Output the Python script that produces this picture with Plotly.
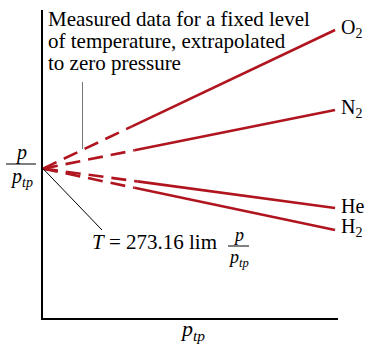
import plotly.graph_objects as go

# ---- data ----
gases = ["O<sub>2</sub>", "N<sub>2</sub>", "He", "H<sub>2</sub>"]
p_ratio_at_zero = 0.485          # common intercept (extrapolated)
p_ratio_end = [0.935, 0.675, 0.357, 0.286]
measured_start = [0.30, 0.31, 0.32, 0.31]   # x where measured (solid) data begins
x_end = 0.99

RED = "#B0151F"
FONT = "Liberation Serif, Times New Roman, serif"

W, H = 368, 345
ML, MR, MT, MB = 43, 30, 10, 27
PW, PH = W - ML - MR, H - MT - MB

def px2x(px):
    return (px - ML) / PW

def py2y(py):
    return (H - MB - py) / PH

fig = go.Figure()
for name, yend, xs in zip(gases, p_ratio_end, measured_start):
    slope = (yend - p_ratio_at_zero) / x_end
    ys = p_ratio_at_zero + slope * xs
    fig.add_trace(go.Scatter(x=[0, xs], y=[p_ratio_at_zero, ys], mode="lines",
                             line=dict(color=RED, width=2.6, dash="15px,8px"),
                             hoverinfo="skip", showlegend=False))
    fig.add_trace(go.Scatter(x=[xs, x_end], y=[ys, yend], mode="lines",
                             line=dict(color=RED, width=2.6),
                             hoverinfo="skip", showlegend=False))

def txt(px, py, text, size, xanchor="left", yanchor="middle", xshift=0, yshift=0):
    return dict(x=px2x(px), y=py2y(py), xref="paper", yref="paper", text=text, showarrow=False,
                xanchor=xanchor, yanchor=yanchor, xshift=xshift, yshift=yshift, borderpad=0,
                font=dict(family=FONT, size=size, color="black"))

ann = []
for name, yend in zip(gases, p_ratio_end):
    ann.append(dict(x=x_end, y=yend, xref="paper", yref="paper", text=name, showarrow=False,
                    xanchor="left", yanchor="middle", xshift=4, yshift=2,
                    font=dict(family=FONT, size=20, color="black")))

lines = ["Measured data for a fixed level", "of temperature, extrapolated", "to zero pressure"]
for t, cy in zip(lines, [18.5, 41, 63]):
    ann.append(txt(47, cy, t, 21))

ann.append(txt(91, 242, "<i>T</i> = 273.16 lim", 21))
ann.append(txt(238, 246.5, "<i>p</i>", 18, xanchor="center", yanchor="bottom"))
ann.append(txt(238, 245.5, "<i>p<sub>tp</sub></i>", 18, xanchor="center", yanchor="top"))

ann.append(txt(21, 164.5, "<i>p</i>", 20, xanchor="center", yanchor="bottom"))
ann.append(txt(21, 163.5, "<i>p<sub>tp</sub></i>", 20, xanchor="center", yanchor="top"))

ann.append(txt(192, 345, "<i>p<sub>tp</sub></i>", 22, xanchor="center", yanchor="bottom"))

def seg(px0, py0, px1, py1, color, width):
    return dict(type="line", xref="paper", yref="paper", x0=px2x(px0), x1=px2x(px1),
                y0=py2y(py0), y1=py2y(py1), line=dict(color=color, width=width))

origin_py = H - MB - p_ratio_at_zero * PH
shapes = [
    seg(6, 164, 36, 164, "black", 1),
    seg(228, 246, 249, 246, "black", 1),
    seg(82.5, 82, 82.5, 149, "#777777", 1),
    seg(ML, origin_py, 102, 230, "black", 1),
]

fig.update_layout(
    width=W, height=H, margin=dict(l=ML, r=MR, t=MT, b=MB, autoexpand=False),
    paper_bgcolor="white", plot_bgcolor="white",
    annotations=ann, shapes=shapes, showlegend=False,
    xaxis=dict(range=[0, 1], showgrid=False, zeroline=False, showticklabels=False, ticks="",
               showline=True, linecolor="black", linewidth=1.5, fixedrange=True),
    yaxis=dict(range=[0, 1], showgrid=False, zeroline=False, showticklabels=False, ticks="",
               showline=True, linecolor="black", linewidth=1.5, fixedrange=True),
)

fig.write_html("out.html", config={"displayModeBar": False},
               post_script="document.body.style.margin='0';document.body.style.overflow='hidden';")
